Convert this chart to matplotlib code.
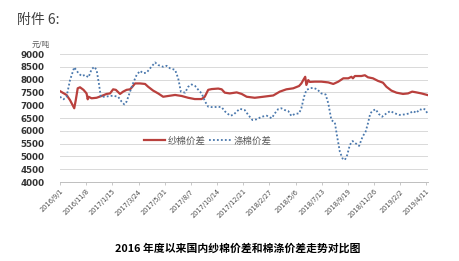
import numpy as np
import pandas as pd
import matplotlib
matplotlib.use("Agg")
import matplotlib.pyplot as plt

plt.rcParams['font.family'] = ['Noto Sans CJK SC', 'DejaVu Sans']

# day offsets from 2016/9/1
start = pd.Timestamp('2016-09-01')

yarn_days = [0, 17, 26, 37, 41, 46, 52, 61, 69, 72, 74, 82, 95, 108, 121, 130, 138, 145,
             156, 164, 173, 182, 188, 195, 208, 221, 229, 242, 255, 268, 281, 299, 316,
             333, 350, 368, 376, 385, 394, 411, 420, 428, 441, 459, 472, 485, 506, 528,
             554, 571, 588, 606, 621, 627, 633, 637, 640, 645, 649, 662, 679, 697, 710,
             723, 736, 749, 757, 761, 766, 783, 792, 800, 813, 826, 839, 848, 861, 874,
             891, 904, 915, 926, 939, 954]
yarn_vals = [7550, 7400, 7200, 6880, 7200, 7660, 7700, 7600, 7460, 7230, 7330, 7270, 7290,
             7360, 7440, 7460, 7620, 7600, 7440, 7530, 7600, 7620, 7720, 7850, 7850, 7830,
             7720, 7570, 7460, 7330, 7360, 7400, 7360, 7290, 7240, 7240, 7330, 7600, 7630,
             7650, 7620, 7490, 7460, 7500, 7440, 7330, 7290, 7330, 7380, 7530, 7620, 7660,
             7750, 7850, 8010, 8110, 7790, 7980, 7910, 7920, 7920, 7890, 7830, 7920, 8050,
             8050, 8110, 8050, 8140, 8140, 8170, 8090, 8050, 7950, 7880, 7720, 7570, 7490,
             7440, 7460, 7530, 7500, 7460, 7400]

poly_days = [0, 9, 17, 26, 37, 48, 56, 65, 74, 82, 89, 95, 101, 106, 117, 130, 138, 151,
             160, 167, 173, 179, 188, 199, 208, 216, 225, 234, 247, 255, 268, 277, 286,
             299, 307, 314, 325, 333, 342, 351, 361, 368, 377, 385, 398, 411, 420, 429,
             442, 450, 459, 467, 480, 489, 500, 511, 524, 537, 550, 558, 567, 575, 584,
             593, 601, 610, 621, 627, 634, 640, 649, 658, 668, 679, 690, 697, 705, 714,
             720, 727, 734, 740, 746, 753, 760, 768, 777, 786, 794, 800, 806, 813, 820,
             828, 837, 848, 858, 870, 882, 895, 908, 917, 926, 934, 943, 947, 954]
poly_vals = [7330, 7230, 7330, 7980, 8480, 8250, 8140, 8180, 8090, 8400, 8500, 8380, 7850,
             7330, 7330, 7360, 7370, 7330, 7140, 7030, 7140, 7400, 7790, 8180, 8340, 8250,
             8270, 8440, 8670, 8570, 8500, 8540, 8440, 8380, 8050, 7530, 7490, 7720, 7810,
             7750, 7570, 7460, 7140, 6940, 6920, 6940, 6920, 6750, 6590, 6620, 6750, 6860,
             6810, 6620, 6420, 6450, 6550, 6590, 6490, 6680, 6850, 6880, 6810, 6770, 6580,
             6660, 6680, 6880, 7330, 7590, 7660, 7680, 7620, 7460, 7420, 7070, 6420, 6320,
             5770, 5180, 4920, 4860, 5050, 5450, 5600, 5510, 5410, 5770, 5970, 6290, 6680,
             6790, 6840, 6660, 6550, 6680, 6770, 6680, 6620, 6640, 6680, 6770, 6700, 6840,
             6810, 6850, 6700]

tick_days = [0, 68, 136, 204, 272, 340, 408, 476, 544, 612, 680, 748, 816, 884, 952]
tick_labels = ['2016/9/1', '2016/11/8', '2017/1/15', '2017/3/24', '2017/5/31', '2017/8/7',
               '2017/10/14', '2017/12/21', '2018/2/27', '2018/5/6', '2018/7/13',
               '2018/9/19', '2018/11/26', '2019/2/2', '2019/4/11']
y_ticks = list(range(4000, 9001, 500))

fig = plt.figure(figsize=(4.6, 2.61), dpi=100)
fig.patch.set_facecolor('white')
ax = fig.add_axes([60/460, 1-182/261, 368/460, 128/261])

ax.plot(yarn_days, yarn_vals, color='#b9403d', lw=1.6, label='纱棉价差', solid_joinstyle='round')
ax.plot(poly_days, poly_vals, color='#4a78ad', lw=1.3, ls=(0, (1, 1.2)), label='涤棉价差')

ax.set_xlim(0, 956)
ax.set_ylim(4000, 9000)
ax.set_yticks(y_ticks)
ax.set_yticklabels([str(v) for v in y_ticks], family='DejaVu Sans', fontsize=6.3,
                   color='#333333', fontweight='bold')
ax.set_xticks(tick_days)
ax.set_xticklabels(tick_labels, rotation=45, ha='right', va='top', rotation_mode='anchor',
                   family='DejaVu Sans', fontsize=4.8, color='#4d4d4d')
ax.tick_params(axis='y', length=0, pad=11)
ax.tick_params(axis='x', length=2.5, width=0.6, color='#bfbfbf', pad=2)
ax.grid(axis='y', color='#d9d9d9', lw=0.7)
ax.set_axisbelow(True)
for s in ['top', 'right', 'left']:
    ax.spines[s].set_visible(False)
ax.spines['bottom'].set_color('#bfbfbf')
ax.spines['bottom'].set_linewidth(0.7)

ax.legend(loc='center', bbox_to_anchor=(0.401, 0.32), ncol=2, frameon=False,
          fontsize=6.8, handlelength=2.3, handletextpad=0.3, columnspacing=0.3,
          labelcolor='#595959')

fig.text(41/460, 1-44.5/261, '元/吨', fontsize=5.5, color='#595959', ha='center', va='center')
fig.text(17/460, 1-20/261, '附件 6:', fontsize=10, color='#404040', ha='left', va='center')
fig.text(238/460, 1-248/261, '2016 年度以来国内纱棉价差和棉涤价差走势对比图', fontsize=7.8,
         fontweight='bold', color='black', ha='center', va='center')

fig.savefig('out.png', dpi=100)
